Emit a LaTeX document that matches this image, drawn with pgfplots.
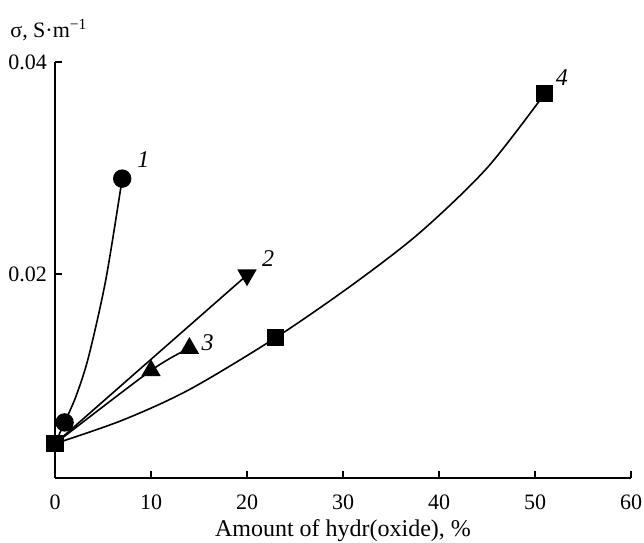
\documentclass[border=0pt]{standalone}
\usepackage{pgfplots}
\pgfplotsset{compat=1.18}
\usepackage{fontspec}
\setmainfont{Liberation Serif}
\begin{document}
\begin{tikzpicture}
\begin{axis}[
  width=288pt, height=208pt, scale only axis,
  xmin=0, xmax=60, ymin=0.000755, ymax=0.04,
  axis lines=left, axis line style={-, line width=1.1pt},
  xtick={0,10,...,60}, ytick={0.02,0.04},
  yticklabels={0.02,0.04}, scaled y ticks=false,
  tick align=inside, major tick length=3.5pt,
  tick style={line width=1pt, black},
  /pgf/number format/assume math mode=true,
  tick label style={font=\fontsize{11}{13}\selectfont},
  xticklabel style={yshift=-5pt},
  yticklabel style={xshift=-0.5pt},
  xlabel={Amount of hydr(oxide), \%},
  xlabel style={font=\fontsize{12}{14}\selectfont, yshift=2pt},
  ylabel={σ, S·m\textsuperscript{−1}},
  ylabel style={font=\fontsize{11}{13}\selectfont, rotate=-90, at={(rel axis cs:0,1)}, anchor=base west, inner sep=0pt, xshift=-22.5pt, yshift=12.5pt},
  every axis plot/.append style={black, line width=0.8pt},
  clip=false,
]
\coordinate (O) at (rel axis cs:0,0);
\coordinate (T) at (rel axis cs:1,1);
% fitted curves
\addplot[smooth, no marks] coordinates {(0,0.004) (1,0.006) (2.2,0.0085) (3.5,0.0122) (5.3,0.0195) (7,0.029)};
\addplot[no marks] coordinates {(0,0.004) (20,0.0199)};
\addplot[smooth, no marks] coordinates {(0,0.004) (10,0.0109) (14,0.013)};
\addplot[smooth, no marks] coordinates {(0,0.004) (7,0.0062) (14,0.0091) (23,0.014) (31,0.019) (38,0.0239) (45,0.030) (51,0.037)};
% measured points
\addplot[only marks, mark=*, mark size=4.2pt] coordinates {(1,0.006) (7,0.029)};
\addplot[only marks, mark=triangle*, mark size=4.8pt, mark options={rotate=180}] coordinates {(20,0.0199)};
\addplot[only marks, mark=triangle*, mark size=4.8pt] coordinates {(10,0.0109) (14,0.013)};
\addplot[only marks, mark=square*, mark size=3.9pt] coordinates {(0,0.004) (23,0.014) (51,0.037)};
\node[font=\itshape\fontsize{12}{14}\selectfont] at (axis cs:9.2,0.0308) {1};
\node[font=\itshape\fontsize{12}{14}\selectfont] at (axis cs:22.2,0.0215) {2};
\node[font=\itshape\fontsize{12}{14}\selectfont] at (axis cs:15.9,0.0135) {3};
\node[font=\itshape\fontsize{12}{14}\selectfont] at (axis cs:52.8,0.0385) {4};
\end{axis}
\pgfresetboundingbox
\path ([shift={(-27.5pt,-32pt)}]O) rectangle ([shift={(6.5pt,31pt)}]T);
\end{tikzpicture}
\end{document}
